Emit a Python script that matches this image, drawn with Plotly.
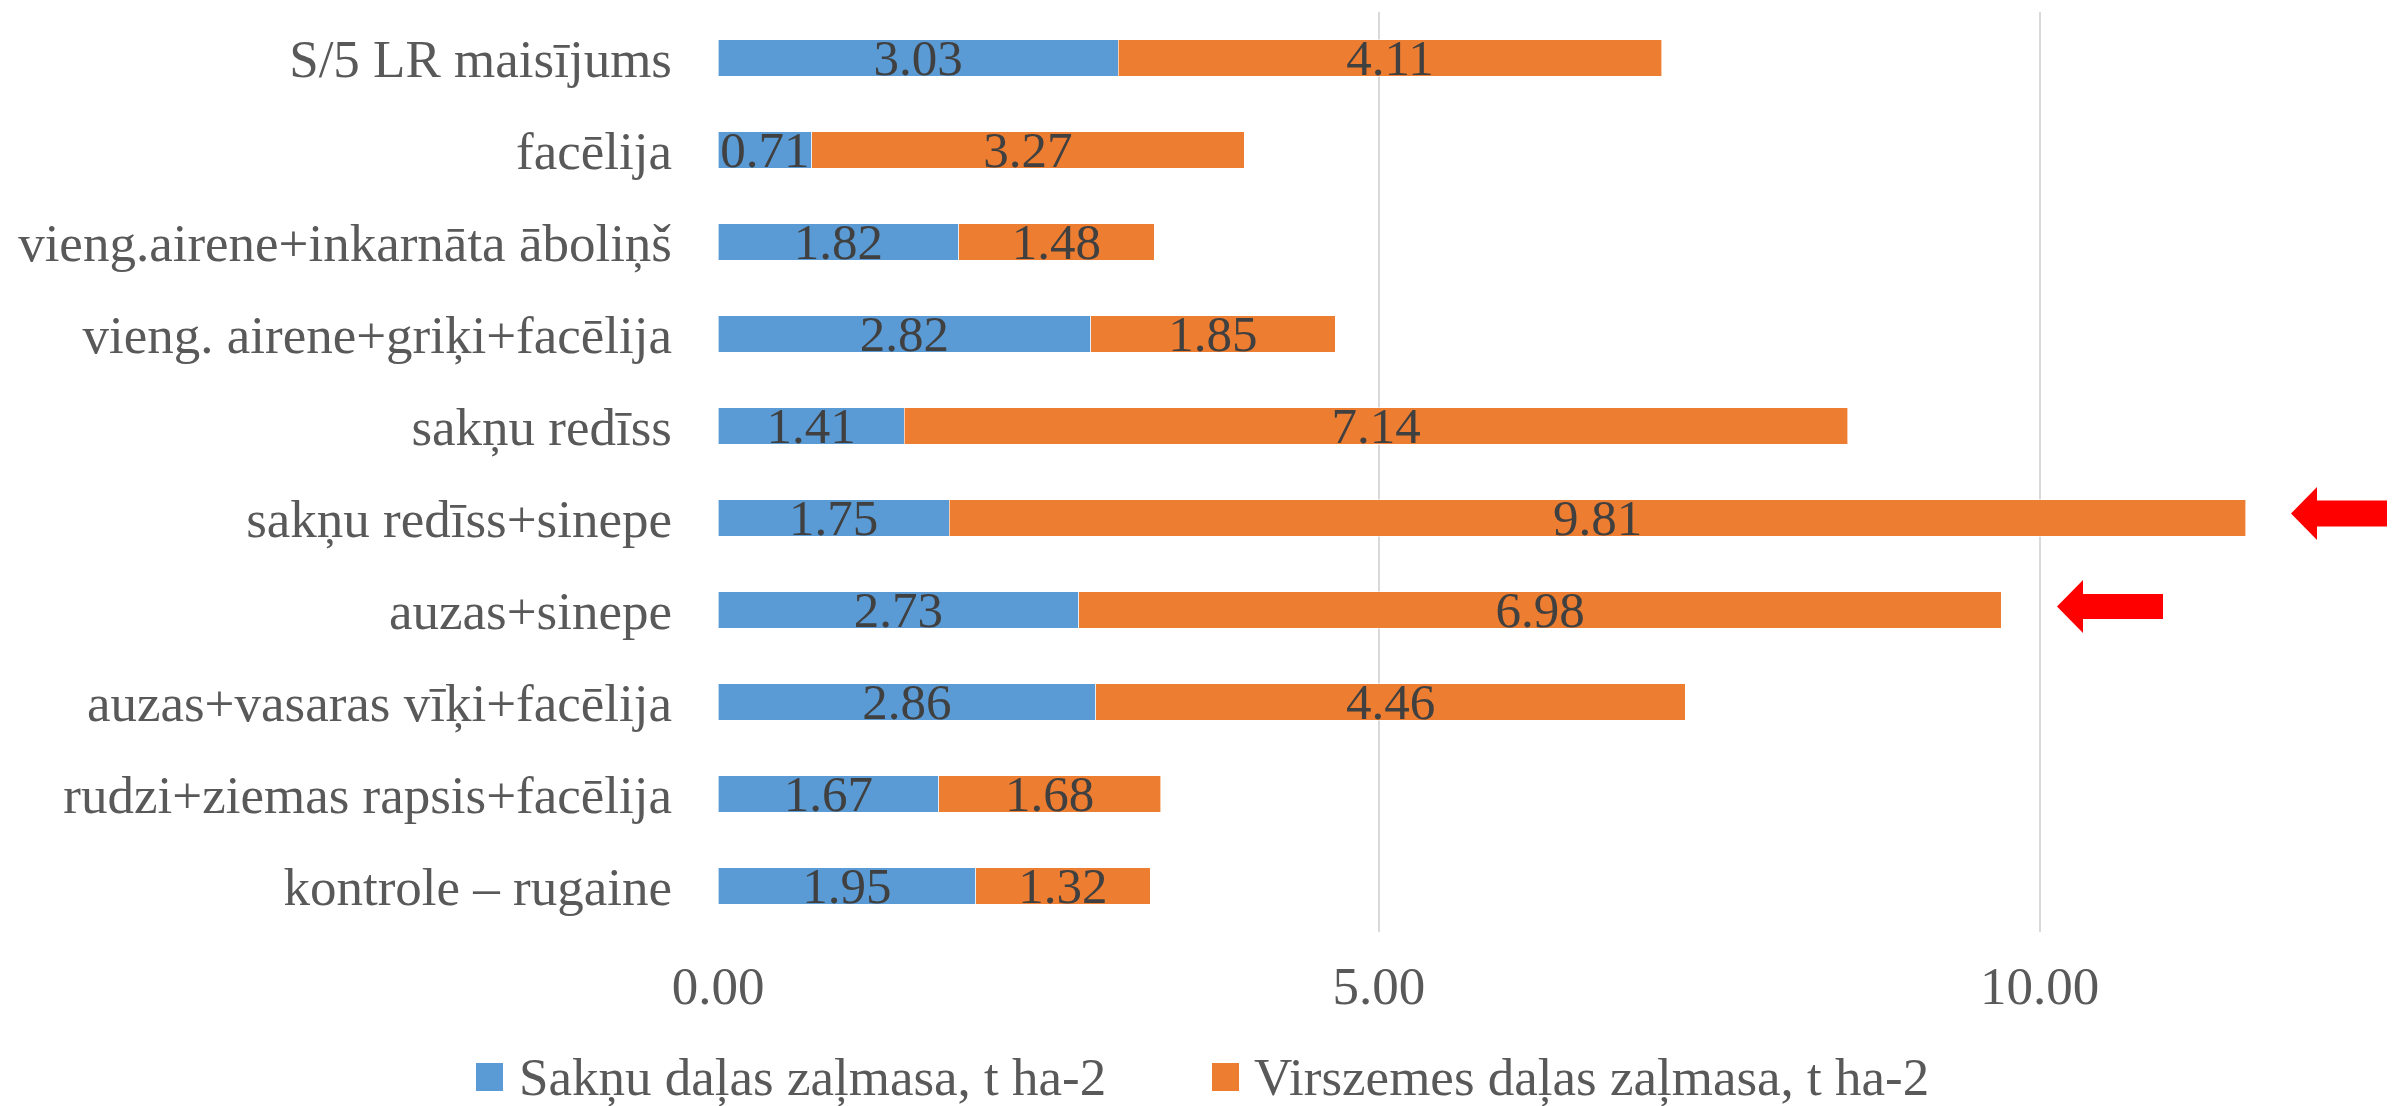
import plotly.graph_objects as go

categories = [
    "S/5 LR maisījums",
    "facēlija",
    "vieng.airene+inkarnāta āboliņš",
    "vieng. airene+griķi+facēlija",
    "sakņu redīss",
    "sakņu redīss+sinepe",
    "auzas+sinepe",
    "auzas+vasaras vīķi+facēlija",
    "rudzi+ziemas rapsis+facēlija",
    "kontrole – rugaine",
]
root_values = [3.03, 0.71, 1.82, 2.82, 1.41, 1.75, 2.73, 2.86, 1.67, 1.95]
top_values = [4.11, 3.27, 1.48, 1.85, 7.14, 9.81, 6.98, 4.46, 1.68, 1.32]
series_names = ["Sakņu daļas zaļmasa, t ha-2", "Virszemes daļas zaļmasa, t ha-2"]
series_colors = ["#5B9BD5", "#ED7D31"]
x_tick_values = [0, 5, 10]
x_tick_labels = ["0.00", "5.00", "10.00"]

W, H = 2395, 1106
OFF = 8  # page body margin compensation
# plot area in page pixels: x 718..2370, y 12..932
ML = 718 - OFF
MT = 12 - OFF
MR = W - (2370 - OFF)
MB = H - (932 - OFF)
PW = W - ML - MR
PH = H - MT - MB
FONT = "Liberation Serif"


def px(x):
    """page x pixel -> paper"""
    return (x - OFF - ML) / PW


def py(y):
    """page y pixel -> paper"""
    return (H - MB - (y - OFF)) / PH


fig = go.Figure()
for name, vals, col in zip(series_names, [root_values, top_values], series_colors):
    fig.add_trace(go.Bar(
        y=categories, x=vals, name=name, orientation="h",
        marker=dict(color=col, line=dict(color="rgba(255,255,255,0.6)", width=1)),
        texttemplate="%{x:.2f}", textposition="inside", insidetextanchor="middle",
        textangle=0, constraintext="none", cliponaxis=False,
        insidetextfont=dict(family=FONT, size=51, color="#404040"),
        showlegend=False, hoverinfo="skip",
    ))

shapes = []
annotations = []
# manual legend
legend_items = [(476, 517), (1212, 1252)]
for (sx, tx), name, col in zip(legend_items, series_names, series_colors):
    shapes.append(dict(type="rect", xref="paper", yref="paper",
                       x0=px(sx), x1=px(sx + 27), y0=py(1091), y1=py(1063),
                       fillcolor=col, line=dict(width=0)))
    annotations.append(dict(xref="paper", yref="paper", x=px(tx), y=py(1077),
                            xanchor="left", yanchor="middle", showarrow=False,
                            text=name, font=dict(family=FONT, size=53, color="#595959")))


# red arrows
def arrow(tip_x, tip_y, back_x, head_half, shaft_half, end_x):
    pts = [
        (tip_x, tip_y),
        (back_x, tip_y - head_half),
        (back_x, tip_y - shaft_half),
        (end_x, tip_y - shaft_half),
        (end_x, tip_y + shaft_half),
        (back_x, tip_y + shaft_half),
        (back_x, tip_y + head_half),
    ]
    d = "M " + " L ".join(f"{px(a):.5f},{py(b):.5f}" for a, b in pts) + " Z"
    return dict(type="path", xref="paper", yref="paper", path=d,
                fillcolor="#FF0000", line=dict(width=0), layer="above")


shapes.append(arrow(2291, 513.5, 2317, 26.5, 13, 2440))
shapes.append(arrow(2057, 606.5, 2083, 26.5, 12.5, 2163))

fig.update_layout(
    width=W, height=H,
    barmode="stack", bargap=0.6,
    margin=dict(l=ML, r=MR, t=MT, b=MB, pad=0, autoexpand=False),
    paper_bgcolor="white", plot_bgcolor="white",
    font=dict(family=FONT, color="#595959"),
    shapes=shapes, annotations=annotations,
    xaxis=dict(range=[0, 12.5], tickvals=x_tick_values, ticktext=x_tick_labels,
               showgrid=True, gridcolor="#D9D9D9", gridwidth=2, zeroline=False,
               showline=False, ticks="", ticklabelstandoff=18, automargin=False,
               tickfont=dict(family=FONT, size=53, color="#595959")),
    yaxis=dict(autorange="reversed", showgrid=False, zeroline=False, showline=False,
               ticks="", ticklabelstandoff=45, automargin=False,
               tickfont=dict(family=FONT, size=53, color="#595959")),
)

fig.write_html("out.html")
